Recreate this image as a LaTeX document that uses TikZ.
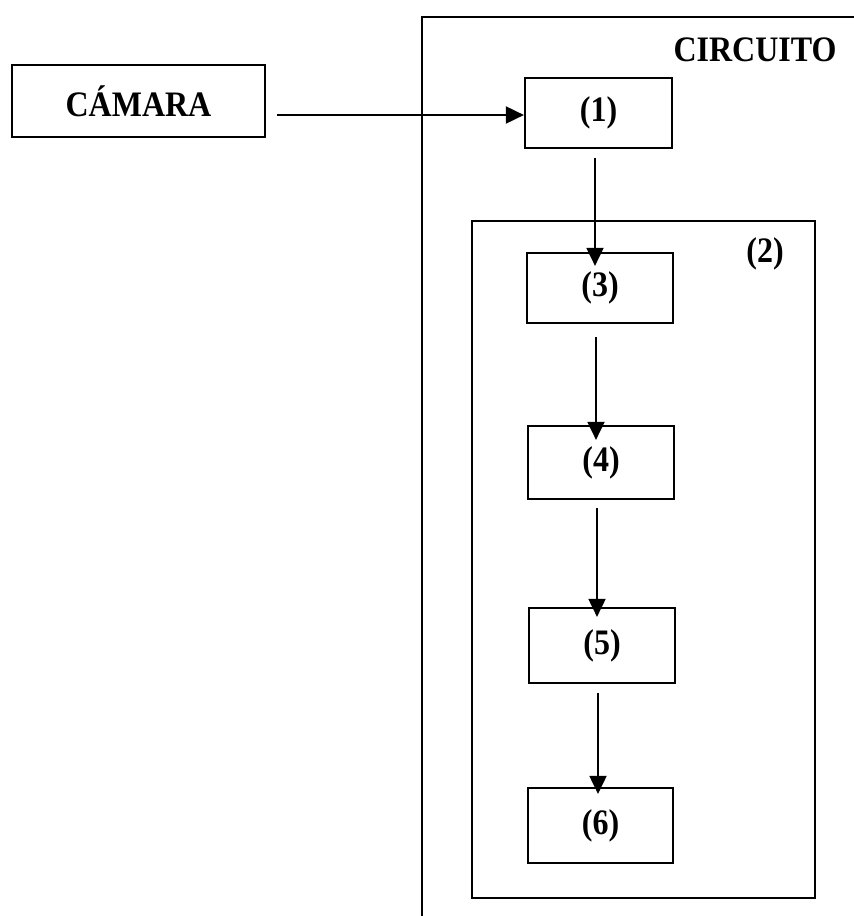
\documentclass[tikz,border=0pt]{standalone}
\usepackage{fontspec}
\setmainfont{Liberation Serif}
\usetikzlibrary{arrows.meta}
\newcommand\tallbf[1]{\scalebox{1}[1.12]{#1}}
\begin{document}
\begin{tikzpicture}[x=1pt,y=-1pt,
  box/.style={draw,line width=2.2pt,inner sep=0pt,minimum width=#1},
  lbl/.style={font=\fontsize{32}{36}\selectfont\bfseries},
  arr/.style={line width=1.9pt,-{Triangle[length=18pt,width=17pt]}}]
\useasboundingbox[fill=white] (0,0) rectangle (854,916);
% outer CIRCUITO frame (open to the right and bottom)
\coordinate (otl) at (422,17);
\draw[line width=2.2pt] (854,17) -- (otl) -- (422,916);
\node[lbl] (circ) at (755,50) {\tallbf{CIRCUITO}};
% inner group (2)
\node[box=343pt,minimum height=677pt] (grp) at (643.5,559.5) {};
\node[lbl] (lab2) at (765,254) {\tallbf{(2)}};
% blocks
\node[box=253pt,minimum height=72pt,lbl] (cam) at (138.5,101) {\tallbf{CÁMARA}};
\node[box=147pt,minimum height=70pt,lbl] (n1) at (598.5,113) {\tallbf{(1)}};
\node[box=146pt,minimum height=70pt,lbl] (n3) at (600,288) {\tallbf{(3)}};
\node[box=146pt,minimum height=73pt,lbl] (n4) at (601,462.5) {\tallbf{(4)}};
\node[box=146pt,minimum height=75pt,lbl] (n5) at (602,645.5) {\tallbf{(5)}};
\node[box=145pt,minimum height=75pt,lbl] (n6) at (600.5,825.5) {\tallbf{(6)}};
% arrows
\coordinate (a0) at (277,115);
\draw[arr] (a0) -- (a0 -| n1.west);
\coordinate (a1) at (595,158);
\draw[arr,shorten >=-14pt] (a1) -- (a1 |- n3.north);
\coordinate (a3) at (596,337);
\draw[arr,shorten >=-15pt] (a3) -- (a3 |- n4.north);
\coordinate (a4) at (597,508);
\draw[arr,shorten >=-10pt] (a4) -- (a4 |- n5.north);
\coordinate (a5) at (598,693);
\draw[arr,shorten >=-7pt] (a5) -- (a5 |- n6.north);
\end{tikzpicture}
\end{document}
